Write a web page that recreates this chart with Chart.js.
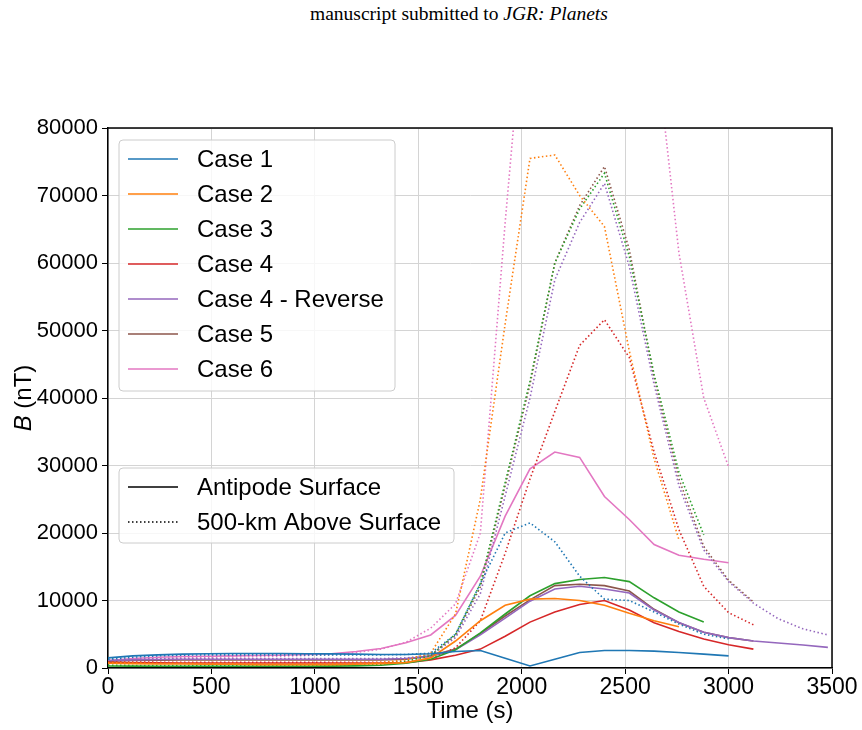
<!DOCTYPE html>
<html>
<head>
<meta charset="utf-8">
<script src="https://cdn.jsdelivr.net/npm/chart.js@4.4.1/dist/chart.umd.min.js"></script>
<style>
  body { margin: 0; background: #fff; }
  #wrap { position: relative; width: 862px; height: 730px; }
  #header { position: absolute; top: 3px; left: 310px; white-space: nowrap;
    font-family: "Liberation Serif", "Times New Roman", serif; font-size: 19.5px; color: #000; }
  canvas { position: absolute; left: 0; top: 0; }
</style>
</head>
<body>
<div id="wrap">
  <div id="header">manuscript submitted to <i>JGR: Planets</i></div>
  <canvas id="bfield" width="862" height="730"></canvas>
</div>
<script>
// time samples (s), every 120 s
const times = [0, 120, 240, 360, 480, 600, 720, 840, 960, 1080, 1200, 1320, 1440, 1560, 1680,
  1800, 1920, 2040, 2160, 2280, 2400, 2520, 2640, 2760, 2880, 3000, 3120, 3240, 3360, 3480];

const caseNames = ["Case 1", "Case 2", "Case 3", "Case 4", "Case 4 - Reverse", "Case 5", "Case 6"];
const caseColors = ["#1f77b4", "#ff7f0e", "#2ca02c", "#d62728", "#9467bd", "#8c564b", "#e377c2"];

// B (nT) at the antipode surface
const case1Surf = [1500, 1800, 1950, 2050, 2100, 2150, 2150, 2150, 2100, 2100, 2050, 2000, 2000, 2100, 2450, 2600, 1450, 300, 1300, 2300, 2600, 2600, 2500, 2300, 2050, 1800];
const case2Surf = [700, 650, 600, 600, 550, 550, 500, 500, 500, 500, 550, 650, 800, 1500, 4000, 7000, 9300, 10200, 10300, 10000, 9300, 8100, 7000, 6100];
const case3Surf = [300, 280, 260, 250, 250, 250, 250, 250, 250, 280, 320, 400, 700, 1300, 2700, 5200, 8000, 10700, 12500, 13100, 13400, 12800, 10400, 8300, 6800];
const case4Surf = [800, 780, 760, 750, 750, 750, 750, 750, 750, 750, 750, 750, 800, 1200, 1900, 2800, 4700, 6800, 8300, 9400, 10000, 8600, 6700, 5400, 4300, 3450, 2800];
const case4RevSurf = [1100, 1200, 1250, 1300, 1300, 1300, 1300, 1300, 1300, 1300, 1300, 1300, 1400, 1700, 2700, 4900, 7400, 9900, 11700, 12100, 11700, 11100, 8600, 6750, 5300, 4500, 4000, 3700, 3400, 3050];
const case5Surf = [1000, 1100, 1150, 1200, 1200, 1200, 1200, 1200, 1200, 1200, 1200, 1200, 1300, 1800, 2800, 5100, 7700, 10100, 12200, 12400, 12200, 11400, 8700, 6700, 5300, 4500, 4000];
const case6Surf = [1100, 1400, 1600, 1700, 1750, 1800, 1850, 1900, 2000, 2100, 2450, 2900, 3750, 4900, 7800, 13600, 22500, 29500, 32000, 31200, 25400, 22000, 18300, 16700, 16100, 15600];

// B (nT) 500 km above the surface
const case1High = [1300, 1600, 1800, 1900, 1950, 1950, 1950, 1950, 1950, 1950, 1950, 1950, 2000, 2200, 5000, 12500, 20000, 21500, 18700, 13600, 10200, 10000, 8300, 6500, 5000, 4300];
const case2High = [800, 750, 700, 700, 650, 650, 600, 600, 600, 650, 700, 800, 1200, 2200, 8000, 25000, 51000, 75500, 76000, 70000, 65400, 47000, 31000, 19000];
const case3High = [400, 380, 350, 350, 350, 350, 350, 350, 350, 380, 420, 550, 1000, 1800, 5000, 12500, 27500, 42500, 60000, 68000, 73300, 61000, 43500, 29000, 19700];
const case4High = [900, 880, 860, 850, 850, 850, 850, 850, 850, 850, 850, 850, 900, 1300, 3000, 7000, 17000, 28000, 38000, 47800, 51600, 46000, 32000, 20500, 12100, 8200, 6400];
const case4RevHigh = [1200, 1300, 1350, 1400, 1400, 1400, 1400, 1400, 1400, 1400, 1400, 1400, 1500, 1800, 4500, 11000, 25500, 40000, 57500, 66000, 71800, 59500, 42000, 27000, 17500, 12800, 9600, 7300, 5800, 4900];
const case5High = [1100, 1200, 1250, 1300, 1300, 1300, 1300, 1300, 1300, 1300, 1300, 1300, 1400, 1900, 4800, 12000, 27000, 42000, 60000, 68500, 74300, 62000, 43000, 28000, 18000, 13000, 9800];
const case6High = [1000, 1300, 1450, 1550, 1600, 1650, 1700, 1750, 1850, 2000, 2300, 2800, 3800, 5900, 9500, 20000, 66000, 108000, 115000, 118000, 115000, 105000, 94500, 61500, 40000, 29800];

const surfSeries = [case1Surf, case2Surf, case3Surf, case4Surf, case4RevSurf, case5Surf, case6Surf];
const highSeries = [case1High, case2High, case3High, case4High, case4RevHigh, case5High, case6High];

const xTicks = [0, 500, 1000, 1500, 2000, 2500, 3000, 3500];
const yTicks = [0, 10000, 20000, 30000, 40000, 50000, 60000, 70000, 80000];

const fontFam = '"Liberation Sans", Arial, Helvetica, sans-serif';
const dotDash = [1.5, 2.5];

function toPoints(vals) {
  return vals.map((v, i) => ({ x: times[i], y: v }));
}

let datasets = [];
caseNames.forEach((name, i) => {
  datasets.push({ label: name, data: toPoints(surfSeries[i]), borderColor: caseColors[i],
    borderWidth: 1.6, pointRadius: 0, tension: 0, fill: false });
  datasets.push({ label: name + " (500 km)", data: toPoints(highSeries[i]), borderColor: caseColors[i],
    borderWidth: 1.6, borderDash: dotDash, pointRadius: 0, tension: 0, fill: false });
});

function roundBox(ctx, x, y, w, h, r) {
  ctx.beginPath();
  ctx.moveTo(x + r, y);
  ctx.arcTo(x + w, y, x + w, y + h, r);
  ctx.arcTo(x + w, y + h, x, y + h, r);
  ctx.arcTo(x, y + h, x, y, r);
  ctx.arcTo(x, y, x + w, y, r);
  ctx.closePath();
  ctx.fillStyle = "rgba(255,255,255,0.8)";
  ctx.fill();
  ctx.strokeStyle = "#cccccc";
  ctx.lineWidth = 1;
  ctx.stroke();
}

// frame, two legends and axis titles (matplotlib look)
const extras = {
  id: "extras",
  afterDraw(chart) {
    const ctx = chart.ctx, a = chart.chartArea;
    ctx.save();
    ctx.strokeStyle = "#000";
    ctx.lineWidth = 1.5;
    ctx.beginPath();
    ctx.moveTo(a.left, a.top);
    ctx.lineTo(a.right, a.top);
    ctx.lineTo(a.right, a.bottom);
    ctx.stroke();

    ctx.font = "24px " + fontFam;
    ctx.textBaseline = "middle";
    ctx.textAlign = "left";

    // case legend
    roundBox(ctx, 119, 140, 276, 251, 4);
    caseNames.forEach((name, i) => {
      const y = 159 + i * 35;
      ctx.strokeStyle = caseColors[i];
      ctx.lineWidth = 1.6;
      ctx.setLineDash([]);
      ctx.beginPath(); ctx.moveTo(128, y); ctx.lineTo(178, y); ctx.stroke();
      ctx.fillStyle = "#000";
      ctx.fillText(name, 197, y + 1);
    });

    // line-style legend
    roundBox(ctx, 119, 468, 335, 75, 4);
    [["Antipode Surface", []], ["500-km Above Surface", dotDash]].forEach((it, i) => {
      const y = 487 + i * 35;
      ctx.strokeStyle = "#000";
      ctx.lineWidth = 1.6;
      ctx.setLineDash(it[1]);
      ctx.beginPath(); ctx.moveTo(128, y); ctx.lineTo(178, y); ctx.stroke();
      ctx.setLineDash([]);
      ctx.fillStyle = "#000";
      ctx.fillText(it[0], 197, y + 1);
    });

    // x title
    ctx.textAlign = "center";
    ctx.fillText("Time (s)", (a.left + a.right) / 2, 711);

    // y title with italic B
    ctx.translate(24, (a.top + a.bottom) / 2);
    ctx.rotate(-Math.PI / 2);
    ctx.font = "italic 24px " + fontFam;
    const wB = ctx.measureText("B").width;
    ctx.font = "24px " + fontFam;
    const wRest = ctx.measureText(" (nT)").width;
    const x0 = -(wB + wRest) / 2;
    ctx.textAlign = "left";
    ctx.font = "italic 24px " + fontFam;
    ctx.fillText("B", x0, 0);
    ctx.font = "24px " + fontFam;
    ctx.fillText(" (nT)", x0 + wB, 0);
    ctx.restore();
  }
};

new Chart(document.getElementById("bfield"), {
  type: "line",
  data: { datasets: datasets },
  options: {
    responsive: false,
    animation: false,
    layout: { padding: { top: 128, right: 30, left: 0, bottom: 0 } },
    plugins: { legend: { display: false }, tooltip: { enabled: false } },
    scales: {
      x: {
        type: "linear", min: 0, max: 3500,
        afterBuildTicks: (s) => { s.ticks = xTicks.map(v => ({ value: v })); },
        afterFit: (s) => { s.height = 62; },
        ticks: { color: "#000", font: { family: fontFam, size: 23 }, padding: 0, maxRotation: 0,
          callback: (v) => String(v) },
        grid: { color: "#d4d4d4", lineWidth: 1, tickLength: 6, tickColor: "#000" },
        border: { color: "#000", width: 1.5 }
      },
      y: {
        min: 0, max: 80000,
        afterBuildTicks: (s) => { s.ticks = yTicks.map(v => ({ value: v })); },
        afterFit: (s) => { s.width = 108; },
        ticks: { color: "#000", font: { family: fontFam, size: 22 }, padding: 4,
          callback: (v) => String(v) },
        grid: { color: "#d4d4d4", lineWidth: 1, tickLength: 6, tickColor: "#000" },
        border: { color: "#000", width: 1.5 }
      }
    }
  },
  plugins: [extras]
});
</script>
</body>
</html>
